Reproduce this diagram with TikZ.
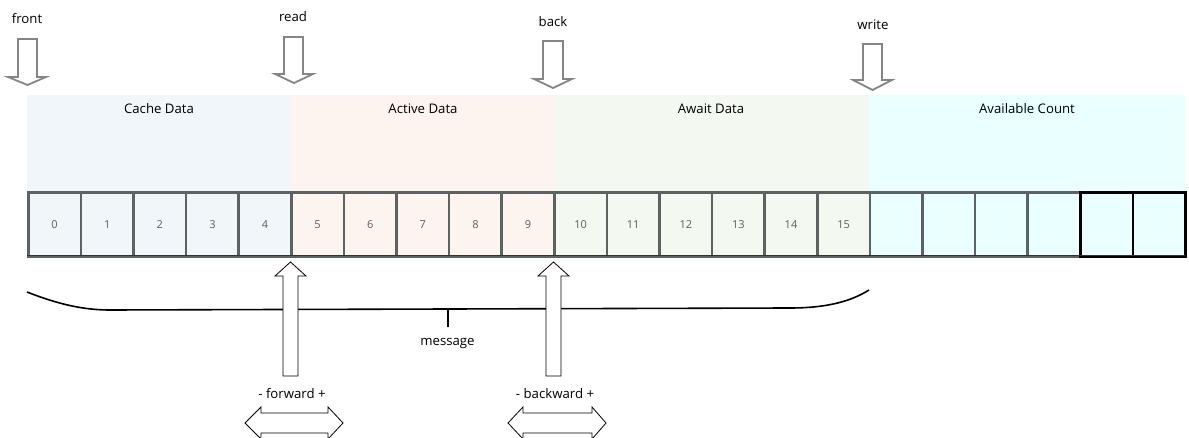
\documentclass[tikz,border=0pt]{standalone}
\usepackage{fontspec}
\setmainfont{Open Sans}
\definecolor{cacheC}{HTML}{F0F6FA}
\definecolor{activeC}{HTML}{FDF4EF}
\definecolor{awaitC}{HTML}{F3F8F0}
\definecolor{availC}{HTML}{EAFFFF}
\definecolor{cellB}{HTML}{5C6363}
\definecolor{numC}{HTML}{5F5F55}
\definecolor{arrG}{HTML}{858585}
\begin{document}
\begin{tikzpicture}[x=1pt,y=-1pt,
  region/.style={draw=none},
  cell/.style={draw=cellB,line width=2.6pt,minimum width=52.6pt,minimum height=64pt,inner sep=0pt,font=\fontsize{11}{13}\selectfont,text=numC,anchor=north west},
  darkcell/.style={cell,draw=black},
  lbl/.style={font=\fontsize{13.2}{15}\selectfont,inner sep=0pt},
  downarr/.style={draw=arrG,line width=1.8pt,fill=white,line join=miter},
  uparr/.style={draw=black,line width=0.8pt,fill=white},
]
\useasboundingbox (0,0) rectangle (1189,438);
% regions
\fill[cacheC] (27,95) rectangle (291,255);
\fill[activeC] (291,95) rectangle (554,255);
\fill[awaitC] (554,95) rectangle (869,255);
\fill[availC] (869,95) rectangle (1185,255);
\node[lbl] (rcache) at (159,109) {Cache Data};
\node[lbl] (ractive) at (423,109) {Active Data};
\node[lbl] (rawait) at (711,109) {Await Data};
\node[lbl] (ravail) at (1027,109) {Available Count};
% cells
\foreach \i in {0,...,4}{
  \node[cell,fill=cacheC] (c\i) at ({27+52.6*\i},191) {\i};
}
\foreach \i in {5,...,9}{
  \node[cell,fill=activeC] (c\i) at ({27+52.6*\i},191) {\i};
}
\foreach \i in {10,...,15}{
  \node[cell,fill=awaitC] (c\i) at ({27+52.6*\i},191) {\i};
}
\foreach \i in {16,...,19}{
  \node[cell,fill=availC] (c\i) at ({27+52.6*\i},191) {};
}
\foreach \i in {20,21}{
  \node[darkcell,fill=availC] (c\i) at ({27+52.6*\i},191) {};
}
\draw[black!80,line width=0.8pt] (27,255.5) -- (1185,255.5);
% top labels and arrows
\node[lbl] (lfront) at (27,19) {front};
\node[lbl] (lread) at (293,17) {read};
\node[lbl] (lback) at (553,22) {back};
\node[lbl] (lwrite) at (873,25) {write};
\draw[downarr] (18,39) -- (37,39) -- (37,77) -- (46,77) -- (27.5,85) -- (8,77) -- (18,77) -- cycle;
\draw[downarr] (284,37) -- (303,37) -- (303,74) -- (313,74) -- (294,83) -- (275,74) -- (284,74) -- cycle;
\draw[downarr] (543,41) -- (563,41) -- (563,79) -- (572,79) -- (553,88) -- (534,79) -- (543,79) -- cycle;
\draw[downarr] (863,44) -- (882,44) -- (882,80) -- (892,80) -- (872.5,90) -- (853,80) -- (863,80) -- cycle;
% brace
\draw[black,line width=1.6pt] (27,292) .. controls (60,305) and (85,310) .. (110,310) -- (790,308) .. controls (825,308) and (850,302) .. (869,290);
\draw[black,line width=1.6pt] (448,310) -- (448,327);
\node[lbl] (lmsg) at (447.5,343) {message};
% bottom up arrows
\draw[uparr] (283,376) -- (283,276) -- (275,276) -- (290.5,262) -- (306,276) -- (298,276) -- (298,376) -- cycle;
\draw[uparr] (546,376) -- (546,276) -- (538,276) -- (553.5,262) -- (569,276) -- (561,276) -- (561,376) -- cycle;
\node[lbl] (lfwd) at (292,394) {- forward +};
\node[lbl] (lbwd) at (555,394) {- backward +};
% double arrows
\draw[uparr] (245,423) -- (261,407) -- (261,413) -- (328,413) -- (328,407) -- (343,423) -- (328,439) -- (328,433) -- (261,433) -- (261,439) -- cycle;
\draw[uparr] (508,423) -- (523,407) -- (523,413) -- (592,413) -- (592,407) -- (606,423) -- (592,439) -- (592,433) -- (523,433) -- (523,439) -- cycle;
\end{tikzpicture}
\end{document}
